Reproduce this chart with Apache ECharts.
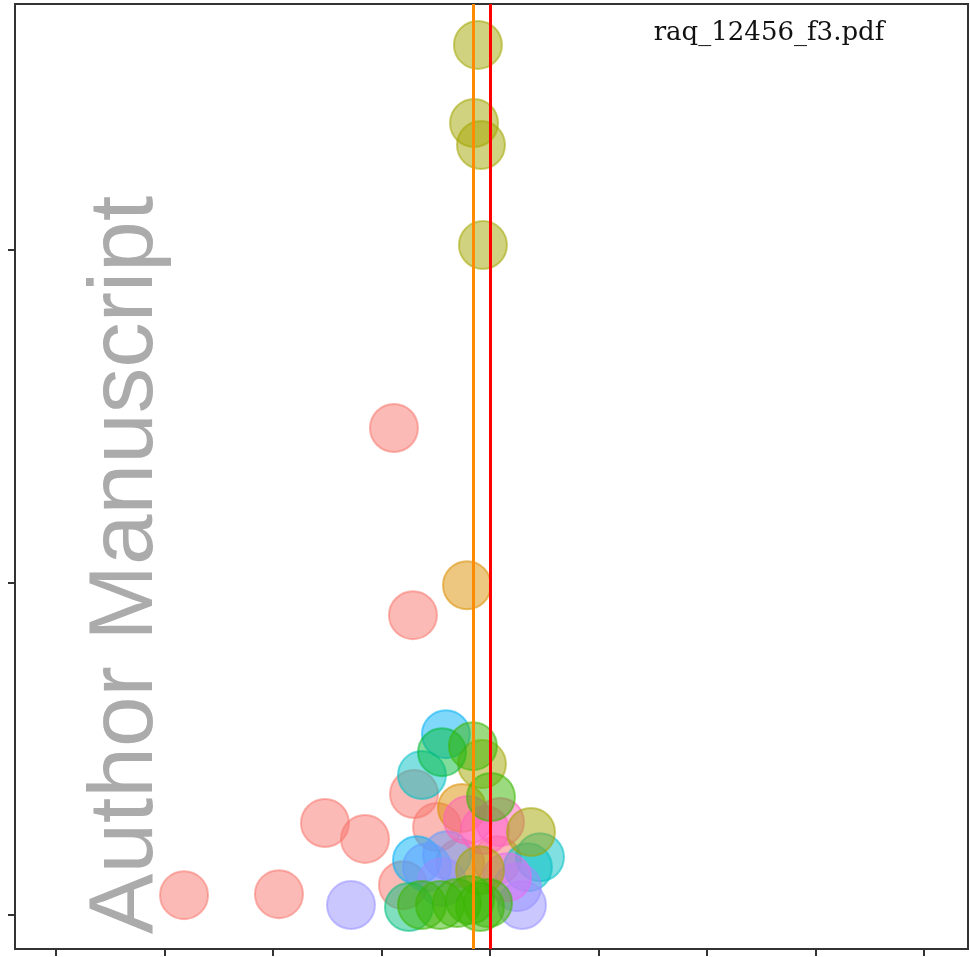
<!DOCTYPE html>
<html>
<head>
<meta charset="utf-8">
<script src="https://cdn.jsdelivr.net/npm/echarts@6/dist/echarts.min.js"></script>
<style>
  html, body { margin: 0; padding: 0; background: #fff; }
  #chart { width: 970px; height: 957px; }
</style>
</head>
<body>
<div id="chart"></div>
<script>
// tick positions (no labels are printed in the figure)
const xTicks = [-4, -3, -2, -1, 0, 1, 2, 3, 4]
const yTicks = [0, 1, 2]

// reference lines
const refLine = 0
const pooledLine = -0.15

// points, one list per colour group: [x, y]
const salmonPts = [[-0.885, 1.465], [-0.710, 0.902], [-1.521, 0.277], [-1.152, 0.229], [-2.820, 0.060],
  [-1.945, 0.063], [-0.700, 0.364], [-0.488, 0.265], [-0.802, 0.090], [-0.276, 0.156], [0.065, 0.165]]
const goldPts = [[-0.212, 0.992], [-0.258, 0.322]]
const olivePts = [[-0.111, 2.617], [-0.147, 2.382], [-0.083, 2.316], [-0.065, 2.015], [-0.074, 0.454],
  [0.378, 0.250], [-0.092, 0.135]]
const skyPts = [[-0.406, 0.544], [-0.673, 0.165]]
const cyanPts = [[-0.627, 0.421], [0.461, 0.174], [0.350, 0.144]]
const bluePts = [[-0.581, 0.144], [-0.396, 0.180]]
const lavenderPts = [[-1.281, 0.030], [0.295, 0.030], [0.249, 0.084], [-0.442, 0.099]]
const magentaPts = [[0.157, 0.114]]
const pinkPts = [[0.092, 0.280], [-0.203, 0.286], [-0.046, 0.256]]
const tealPts = [[-0.747, 0.024]]
const green2Pts = [[-0.442, 0.490]]
const greenPts = [[-0.157, 0.508], [0.009, 0.355], [-0.304, 0.036], [-0.092, 0.024], [-0.018, 0.036],
  [-0.627, 0.030], [-0.461, 0.030], [-0.184, 0.045]]

const groups = [
  ['salmon', salmonPts, '248,118,109'],
  ['gold', goldPts, '219,142,0'],
  ['sky', skyPts, '0,176,246'],
  ['cyan', cyanPts, '0,191,196'],
  ['blue', bluePts, '97,156,255'],
  ['lavender', lavenderPts, '149,144,255'],
  ['magenta', magentaPts, '231,107,243'],
  ['pink', pinkPts, '255,98,188'],
  ['olive', olivePts, '163,165,0'],
  ['teal', tealPts, '0,191,125'],
  ['green2', green2Pts, '0,186,56'],
  ['green', greenPts, '57,182,0']
]

const series = groups.map(g => ({
  name: g[0],
  type: 'scatter',
  data: g[1],
  symbolSize: 48,
  itemStyle: {
    opacity: 1,
    color: 'rgba(' + g[2] + ',0.5)',
    borderColor: 'rgba(' + g[2] + ',0.55)',
    borderWidth: 2
  },
  z: 3
}))

series.push({
  type: 'scatter',
  data: [],
  z: 5,
  markLine: {
    silent: true,
    symbol: 'none',
    label: { show: false },
    data: [
      { xAxis: pooledLine, lineStyle: { color: '#ff8c00', width: 3, type: 'solid' } },
      { xAxis: refLine, lineStyle: { color: '#ff0000', width: 3, type: 'solid' } }
    ]
  }
})

const chart = echarts.init(document.getElementById('chart'))
chart.setOption({
  animation: false,
  grid: {
    left: 15, right: 2, top: 4, bottom: 8,
    show: true, borderColor: '#333', borderWidth: 2, backgroundColor: 'transparent'
  },
  xAxis: {
    type: 'value',
    min: -4.378, max: 4.406,
    splitLine: { show: false },
    axisLine: { show: false, onZero: false },
    axisLabel: { show: false },
    axisTick: { show: true, length: 7, customValues: xTicks, lineStyle: { color: '#333', width: 2 } }
  },
  yAxis: {
    type: 'value',
    min: -0.102, max: 2.740,
    splitLine: { show: false },
    axisLine: { show: false, onZero: false },
    axisLabel: { show: false },
    axisTick: { show: true, length: 7, customValues: yTicks, lineStyle: { color: '#333', width: 2 } }
  },
  graphic: [
    {
      type: 'text', x: 127, y: 565, rotation: Math.PI / 2, z: 1,
      style: {
        text: 'Author Manuscript', fill: '#ababab',
        font: '91px "Liberation Sans", Arial, sans-serif',
        align: 'center', verticalAlign: 'middle'
      }
    },
    {
      type: 'text', x: 769, y: 33, z: 10,
      style: {
        text: 'raq_12456_f3.pdf', fill: '#111',
        font: '26px "DejaVu Serif", serif',
        align: 'center', verticalAlign: 'middle'
      }
    }
  ],
  series: series
})
</script>
</body>
</html>
